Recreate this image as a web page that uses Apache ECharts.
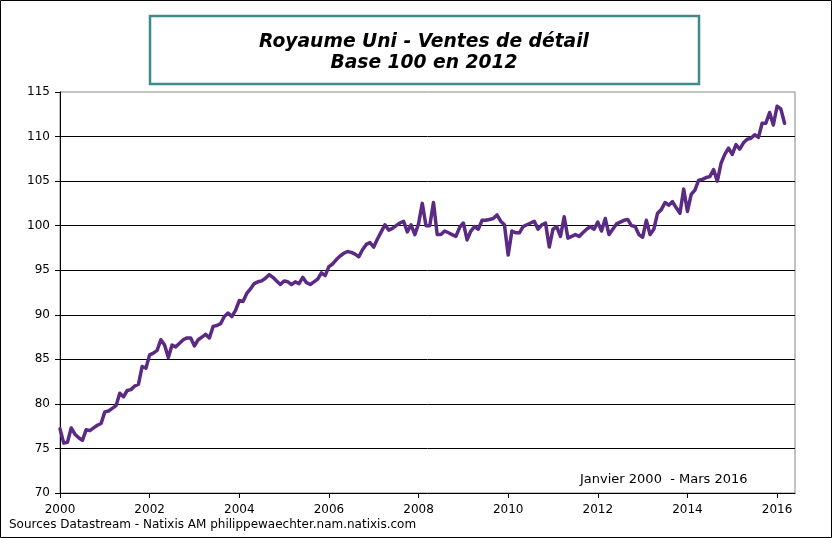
<!DOCTYPE html>
<html>
<head>
<meta charset="utf-8">
<script src="https://cdn.jsdelivr.net/npm/echarts@6/dist/echarts.min.js"></script>
<style>
html,body{margin:0;padding:0;background:#fff;}
#c{width:832px;height:538px;}
</style>
</head>
<body>
<div id="c"></div>
<script>
// Monthly retail sales index (base 100 in 2012), January 2000 - March 2016
const startYear = 2000;
const v2000 = [77.2, 75.6, 75.7, 77.3, 76.6, 76.2, 75.9, 77.1, 77.0, 77.3, 77.6, 77.8];
const v2001 = [79.1, 79.2, 79.5, 79.8, 81.2, 80.8, 81.5, 81.6, 82.0, 82.2, 84.2, 84.0];
const v2002 = [85.5, 85.7, 86.0, 87.2, 86.6, 85.2, 86.6, 86.4, 86.8, 87.2, 87.4, 87.4];
const v2003 = [86.5, 87.2, 87.5, 87.8, 87.4, 88.7, 88.8, 89.0, 89.8, 90.2, 89.8, 90.5];
const v2004 = [91.6, 91.5, 92.4, 92.9, 93.5, 93.7, 93.8, 94.1, 94.5, 94.2, 93.8, 93.4];
const v2005 = [93.8, 93.7, 93.4, 93.7, 93.5, 94.2, 93.6, 93.4, 93.7, 94.0, 94.7, 94.4];
const v2006 = [95.4, 95.7, 96.2, 96.6, 96.9, 97.1, 97.0, 96.8, 96.5, 97.3, 97.9, 98.1];
const v2007 = [97.6, 98.5, 99.3, 100.1, 99.5, 99.7, 100.0, 100.3, 100.5, 99.3, 100.1, 99.0];
const v2008 = [100.2, 102.5, 100.0, 100.0, 102.6, 99.0, 99.0, 99.4, 99.2, 99.0, 98.8, 99.8];
const v2009 = [100.3, 98.4, 99.4, 99.9, 99.6, 100.6, 100.6, 100.7, 100.8, 101.2, 100.5, 100.1];
const v2010 = [96.7, 99.4, 99.2, 99.2, 99.9, 100.1, 100.3, 100.5, 99.6, 100.1, 100.3, 97.6];
const v2011 = [99.6, 99.9, 98.8, 101.0, 98.6, 98.8, 99.0, 98.8, 99.2, 99.6, 99.9, 99.6];
const v2012 = [100.4, 99.4, 100.8, 99.0, 99.6, 100.2, 100.4, 100.6, 100.7, 100.0, 99.9, 99.0];
const v2013 = [98.7, 100.6, 99.0, 99.6, 101.4, 101.8, 102.6, 102.3, 102.7, 102.0, 101.4, 104.1];
const v2014 = [101.6, 103.5, 104.0, 105.1, 105.2, 105.4, 105.5, 106.3, 105.0, 107.0, 108.0, 108.7];
const v2015 = [108.0, 109.1, 108.6, 109.3, 109.7, 109.8, 110.2, 109.9, 111.5, 111.5, 112.7, 111.3];
const v2016 = [113.4, 113.1, 111.5];

const yTicks = [70, 75, 80, 85, 90, 95, 100, 105, 110, 115];
const xTickYears = [2000, 2002, 2004, 2006, 2008, 2010, 2012, 2014, 2016];

const titleLine1 = 'Royaume Uni - Ventes de détail';
const titleLine2 = 'Base 100 en 2012';
const periodLabel = 'Janvier 2000  - Mars 2016';
const sourceLabel = 'Sources Datastream - Natixis AM philippewaechter.nam.natixis.com';

const values = [].concat(v2000, v2001, v2002, v2003, v2004, v2005, v2006, v2007,
  v2008, v2009, v2010, v2011, v2012, v2013, v2014, v2015, v2016);
const seriesData = values.map((v, i) => [startYear + i / 12, v]);

const FONT = '"DejaVu Sans", Verdana, sans-serif';
const chart = echarts.init(document.getElementById('c'), null, {renderer: 'canvas'});
chart.setOption({
  animation: false,
  backgroundColor: '#fff',
  grid: {left: 60, right: 37, top: 92, bottom: 45, show: true, borderColor: '#868686', borderWidth: 1, backgroundColor: 'transparent'},
  xAxis: {
    type: 'value', min: 2000, max: 2016.4, interval: 2,
    axisLine: {show: true, onZero: false, lineStyle: {color: '#000', width: 1}},
    axisTick: {show: true, length: 5, inside: false, lineStyle: {color: '#000'},
      customValues: xTickYears},
    axisLabel: {color: '#000', fontFamily: FONT, fontSize: 12, margin: 11,
      customValues: xTickYears, formatter: v => String(v)},
    splitLine: {show: false}
  },
  yAxis: {
    type: 'value', min: 70, max: 115, interval: 5,
    axisLine: {show: true, lineStyle: {color: '#000', width: 1}},
    axisTick: {show: true, length: 5, lineStyle: {color: '#000'}},
    axisLabel: {color: '#000', fontFamily: FONT, fontSize: 12, margin: 10,
      formatter: v => yTicks.includes(v) ? String(v) : ''},
    splitLine: {show: true, showMinLine: false, showMaxLine: false, lineStyle: {color: '#000', width: 1}}
  },
  series: [{
    type: 'line', data: seriesData, showSymbol: false, symbol: 'none',
    lineStyle: {color: '#5b2a84', width: 3.5, join: 'round', cap: 'round'},
    z: 5
  }],
  graphic: [
    {type: 'rect', shape: {x: 0.5, y: 0.5, width: 831, height: 537}, style: {fill: 'none', stroke: '#000', lineWidth: 1}, z: 0, silent: true},
    {type: 'rect', shape: {x: 150, y: 16, width: 549, height: 68}, style: {fill: '#fff', stroke: '#3f8a8c', lineWidth: 2.5}, z: 10},
    {type: 'text', x: 424, y: 42, style: {text: titleLine1, fontFamily: FONT, fontSize: 18.7, fontWeight: 'bold', fontStyle: 'italic', fill: '#000', align: 'center', verticalAlign: 'middle'}, z: 11},
    {type: 'text', x: 424, y: 63, style: {text: titleLine2, fontFamily: FONT, fontSize: 18.7, fontWeight: 'bold', fontStyle: 'italic', fill: '#000', align: 'center', verticalAlign: 'middle'}, z: 11},
    {type: 'text', x: 580, y: 480, style: {text: periodLabel, fontFamily: FONT, fontSize: 13, fill: '#000', align: 'left', verticalAlign: 'middle'}, z: 11},
    {type: 'text', x: 9, y: 525, style: {text: sourceLabel, fontFamily: FONT, fontSize: 12, fill: '#000', align: 'left', verticalAlign: 'middle'}, z: 11}
  ]
});
</script>
</body>
</html>
